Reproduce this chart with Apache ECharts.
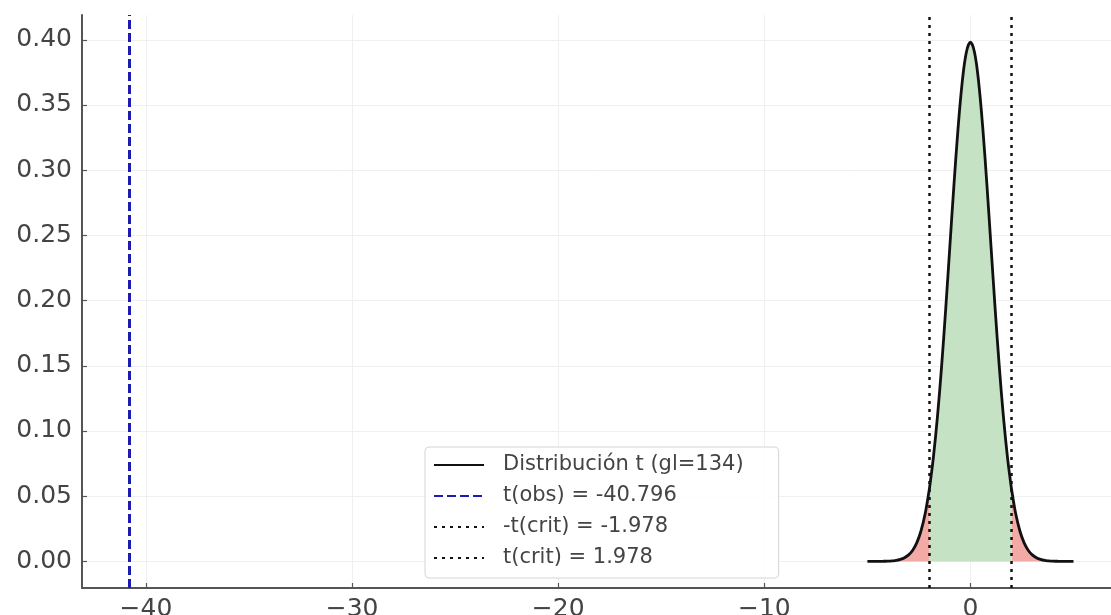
<!DOCTYPE html>
<html>
<head>
<meta charset="utf-8">
<script src="https://cdn.jsdelivr.net/npm/echarts@6/dist/echarts.min.js"></script>
<style>
  html, body { margin: 0; padding: 0; background: #ffffff; }
  #chart { width: 1111px; height: 615px; }
</style>
</head>
<body>
<div id="chart"></div>
<script>
// Student t density, 134 degrees of freedom, sampled on [-5, 5]
const tGrid = [
  -5.0, -4.8, -4.6, -4.4, -4.2, -4.0, -3.8, -3.6, -3.4, -3.2,
  -3.0, -2.8, -2.6, -2.4, -2.2, -2.0, -1.978, -1.8, -1.6, -1.4,
  -1.2, -1.0, -0.8, -0.6, -0.4, -0.2, 0.0, 0.2, 0.4, 0.6,
  0.8, 1.0, 1.2, 1.4, 1.6, 1.8, 1.978, 2.0, 2.2, 2.4,
  2.6, 2.8, 3.0, 3.2, 3.4, 3.6, 3.8, 4.0, 4.2, 4.4,
  4.6, 4.8, 5.0
];
const density = [
  0.0000, 0.0000, 0.0000, 0.0000, 0.0001, 0.0002, 0.0004, 0.0007, 0.0015, 0.0028,
  0.0050, 0.0086, 0.0144, 0.0233, 0.0363, 0.0547, 0.0571, 0.0794, 0.1110, 0.1494,
  0.1935, 0.2411, 0.2887, 0.3322, 0.3674, 0.3903, 0.3982, 0.3903, 0.3674, 0.3322,
  0.2887, 0.2411, 0.1935, 0.1494, 0.1110, 0.0794, 0.0571, 0.0547, 0.0363, 0.0233,
  0.0144, 0.0086, 0.0050, 0.0028, 0.0015, 0.0007, 0.0004, 0.0002, 0.0001, 0.0000,
  0.0000, 0.0000, 0.0000
];

// Test statistics
const tObs = -40.796;
const tCrit = 1.978;

// Axis ranges and tick labels
const xRange = [-43.105, 6.82];
const yRange = [-0.0204, 0.419];
const xTicks = [-40, -30, -20, -10, 0];
const yTicks = [0.00, 0.05, 0.10, 0.15, 0.20, 0.25, 0.30, 0.35, 0.40];

// Legend texts
const seriesNames = [
  'Distribución t (gl=134)',
  't(obs) = -40.796',
  '-t(crit) = -1.978',
  't(crit) = 1.978'
];

const pairs = tGrid.map((t, i) => [t, density[i]]);
const leftTail = pairs.filter(p => p[0] <= -tCrit);
const centre = pairs.filter(p => p[0] >= -tCrit && p[0] <= tCrit);
const rightTail = pairs.filter(p => p[0] >= tCrit);

const FONT = 'DejaVu Sans';
const TEXT = '#444444';
const SPINE = '#555555';
const SMOOTH = 0.35;

function areaSeries(data, color) {
  return {
    type: 'line',
    data: data,
    symbol: 'none',
    silent: true,
    smooth: SMOOTH,
    lineStyle: { width: 0, opacity: 0 },
    areaStyle: { color: color, opacity: 1 },
    z: 1
  };
}

function vline(name, x, color, width, dash) {
  return {
    name: name,
    type: 'line',
    data: [],
    symbol: 'none',
    lineStyle: { color: color, width: width, type: dash },
    itemStyle: { color: color },
    markLine: {
      silent: true,
      symbol: 'none',
      label: { show: false },
      lineStyle: { color: color, width: width, type: dash },
      data: [{ xAxis: x }]
    },
    z: 4
  };
}

const chart = echarts.init(document.getElementById('chart'), null, { renderer: 'canvas' });

chart.setOption({
  animation: false,
  backgroundColor: '#ffffff',
  grid: { left: 82, right: 0, top: 15, bottom: 27, containLabel: false, outerBoundsMode: 'none' },
  xAxis: {
    type: 'value',
    min: xRange[0],
    max: xRange[1],
    axisLine: { show: true, onZero: false, lineStyle: { color: SPINE, width: 2 } },
    axisTick: { show: true, inside: true, length: 5, customValues: xTicks, lineStyle: { color: SPINE, width: 1.2 } },
    axisLabel: {
      customValues: xTicks,
      formatter: v => String(v).replace('-', '\u2212'),
      fontFamily: FONT, fontSize: 25, color: TEXT, margin: 9
    },
    splitLine: { show: true, lineStyle: { color: '#efefef', width: 1 } }
  },
  yAxis: {
    type: 'value',
    min: yRange[0],
    max: yRange[1],
    axisLine: { show: true, onZero: false, lineStyle: { color: SPINE, width: 2 } },
    axisTick: { show: true, inside: true, length: 5, customValues: yTicks, lineStyle: { color: SPINE, width: 1.2 } },
    axisLabel: {
      customValues: yTicks,
      formatter: v => v.toFixed(2),
      fontFamily: FONT, fontSize: 25, color: TEXT, margin: 10
    },
    splitLine: { show: true, lineStyle: { color: '#efefef', width: 1 } }
  },
  legend: {
    data: seriesNames,
    orient: 'vertical',
    left: 425,
    top: 447,
    itemWidth: 50,
    itemHeight: 14,
    itemGap: 9,
    padding: [7, 35, 9, 8],
    backgroundColor: 'rgba(255,255,255,0.85)',
    borderColor: '#d4d4d4',
    borderWidth: 1,
    borderRadius: 4,
    selectedMode: false,
    itemStyle: { opacity: 0 },
    textStyle: {
      fontFamily: FONT, fontSize: 21, color: TEXT, lineHeight: 22,
      padding: [0, 0, 0, 14]
    }
  },
  series: [
    areaSeries(leftTail, '#f3aaa7'),
    areaSeries(rightTail, '#f3aaa7'),
    areaSeries(centre, '#c6e2c4'),
    {
      name: seriesNames[0],
      type: 'line',
      data: pairs,
      symbol: 'none',
      smooth: SMOOTH,
      lineStyle: { color: '#111111', width: 2.8 },
      itemStyle: { color: '#111111' },
      z: 3
    },
    vline(seriesNames[1], tObs, '#1c1cb0', 3, [9, 4]),
    vline(seriesNames[2], -tCrit, '#111111', 2.5, [3, 5]),
    vline(seriesNames[3], tCrit, '#111111', 2.5, [3, 5])
  ]
});
</script>
</body>
</html>
